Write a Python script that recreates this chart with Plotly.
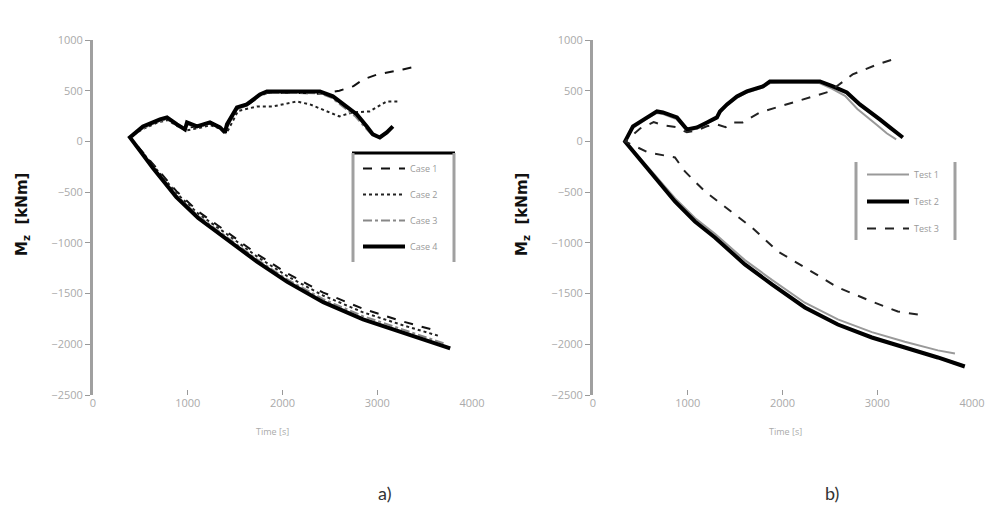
import plotly.graph_objects as go

W, H = 988, 515

# ---------------- data: panel a) ----------------
a_names = ["Case 1", "Case 2", "Case 3", "Case 4"]

a1_low_x = [3560, 3270, 2850, 2430, 2050, 1730, 1410, 1110, 880, 630, 390]
a1_low_y = [-1850, -1775, -1650, -1490, -1300, -1110, -890, -690, -490, -220, 40]
a1_up_x = [530, 700, 780, 880, 980, 1100, 1230, 1340, 1400, 1520, 1630, 1770, 1840, 2080, 2400, 2600, 2750, 2850, 3000, 3270, 3420]
a1_up_y = [140, 210, 230, 170, 130, 150, 180, 140, 120, 320, 360, 450, 480, 480, 470, 500, 545, 610, 660, 710, 740]

a2_low_x = [3640, 3270, 2850, 2430, 2050, 1730, 1410, 1110, 880, 630, 390]
a2_low_y = [-1915, -1812, -1685, -1520, -1328, -1135, -912, -712, -510, -235, 40]
a2_up_x = [520, 690, 790, 890, 990, 1110, 1240, 1350, 1420, 1530, 1730, 1900, 2150, 2290, 2470, 2600, 2740, 2920, 3100, 3240]
a2_up_y = [120, 190, 210, 150, 110, 130, 160, 120, 100, 300, 345, 345, 394, 365, 296, 247, 286, 296, 394, 394]

a3_low_x = [3700, 3270, 2850, 2430, 2050, 1730, 1410, 1110, 880, 630, 390]
a3_low_y = [-1990, -1855, -1722, -1555, -1360, -1162, -938, -735, -530, -248, 40]
a3_up_x = [527, 700, 780, 880, 970, 1000, 1100, 1230, 1340, 1400, 1420, 1520, 1620, 1760, 1840, 2080, 2390, 2520, 2660, 2770, 2870, 2940, 3010, 3090]
a3_up_y = [130, 200, 220, 160, 110, 170, 140, 175, 130, 85, 150, 320, 350, 450, 480, 480, 475, 430, 330, 245, 140, 70, 40, 90]

a4_low_x = [3770, 3270, 2850, 2430, 2050, 1730, 1410, 1110, 880, 630, 390]
a4_low_y = [-2040, -1890, -1755, -1585, -1385, -1185, -960, -755, -550, -260, 40]
a4_up_x = [527, 707, 781, 886, 970, 992, 1097, 1234, 1340, 1392, 1414, 1519, 1624, 1762, 1835, 2078, 2395, 2532, 2679, 2785, 2890, 2954, 3027, 3101, 3165]
a4_up_y = [148, 217, 237, 168, 118, 187, 148, 187, 138, 89, 168, 335, 365, 464, 493, 493, 493, 444, 345, 266, 148, 69, 39, 89, 148]

# ---------------- data: panel b) ----------------
b_names = ["Test 1", "Test 2", "Test 3"]

b1_low_x = [3820, 3640, 3291, 2943, 2584, 2236, 1888, 1603, 1287, 1076, 865, 654, 475, 338]
b1_low_y = [-2090, -2060, -1975, -1880, -1755, -1590, -1365, -1170, -910, -755, -560, -330, -140, 0]
b1_up_x = [420, 560, 670, 740, 880, 990, 1100, 1200, 1300, 1340, 1410, 1520, 1620, 1790, 1870, 2080, 2390, 2520, 2660, 2790, 2900, 3000, 3100, 3200]
b1_up_y = [130, 220, 280, 270, 220, 110, 125, 175, 225, 280, 350, 430, 480, 530, 575, 580, 575, 520, 450, 320, 240, 160, 80, 20]

b2_low_x = [3924, 3639, 3291, 2943, 2584, 2236, 1888, 1603, 1287, 1076, 865, 654, 475, 338]
b2_low_y = [-2219, -2130, -2032, -1933, -1805, -1637, -1410, -1213, -947, -789, -592, -355, -158, 0]
b2_up_x = [422, 570, 675, 738, 886, 992, 1097, 1203, 1308, 1340, 1414, 1519, 1624, 1793, 1867, 2078, 2395, 2532, 2679, 2816, 2922, 3027, 3133, 3270]
b2_up_y = [148, 237, 296, 286, 237, 118, 138, 187, 237, 296, 365, 444, 493, 542, 592, 592, 592, 542, 483, 365, 296, 217, 138, 39]

b3_low_x = [3428, 3217, 2943, 2584, 2236, 1951, 1677, 1392, 1181, 970, 865, 580, 338]
b3_low_y = [-1706, -1677, -1578, -1440, -1243, -1085, -848, -641, -493, -296, -158, -108, 0]
b3_up_x = [500, 640, 740, 880, 990, 1100, 1200, 1300, 1400, 1480, 1580, 1760, 1970, 2150, 2320, 2500, 2740, 3000, 3165]
b3_up_y = [130, 190, 160, 140, 90, 110, 150, 170, 140, 187, 187, 286, 345, 394, 444, 493, 661, 759, 809]

x_ticks = [0, 1000, 2000, 3000, 4000]
y_ticks = [1000, 500, 0, -500, -1000, -1500, -2000, -2500]
x_title = "Time [s]"
y_title = "<b>M<sub>z</sub>  [kNm]</b>"
captions = ["a)", "b)"]

# ---------------- figure ----------------
def px(x):
    return x / W

def py(y):
    return 1 - y / H

fig = go.Figure()

a_series = [
    (a1_low_x + a1_up_x, a1_low_y + a1_up_y, dict(color="#111", width=2, dash="dash")),
    (a2_low_x + a2_up_x, a2_low_y + a2_up_y, dict(color="#222", width=2, dash="dot")),
    (a3_low_x + a3_up_x, a3_low_y + a3_up_y, dict(color="#888", width=2, dash="dashdot")),
    (a4_low_x + a4_up_x, a4_low_y + a4_up_y, dict(color="#000", width=4)),
]
for name, (xs, ys, ln) in zip(a_names, a_series):
    fig.add_trace(go.Scatter(x=xs, y=ys, mode="lines", name=name, line=ln,
                             xaxis="x", yaxis="y", legend="legend", legendgroup=name))

b_series = [
    (b1_low_x + b1_up_x, b1_low_y + b1_up_y, dict(color="#999", width=2)),
    (b2_low_x + b2_up_x, b2_low_y + b2_up_y, dict(color="#000", width=4)),
    (b3_low_x + b3_up_x, b3_low_y + b3_up_y, dict(color="#222", width=2, dash="dash")),
]
for name, (xs, ys, ln) in zip(b_names, b_series):
    fig.add_trace(go.Scatter(x=xs, y=ys, mode="lines", name=name, line=ln,
                             xaxis="x2", yaxis="y2", legend="legend2", legendgroup=name))

tickfont = dict(family="Open Sans, sans-serif", size=11, color="#aaa")
xcommon = dict(range=[0, 4000], tickvals=x_ticks, showgrid=False, zeroline=False,
               showline=False, ticks="inside", ticklen=5, tickcolor="#999",
               tickfont=tickfont, automargin=False)
ycommon = dict(range=[-2500, 1000], tickvals=y_ticks, showgrid=False, zeroline=False,
               showline=True, linecolor="#a0a0a0", linewidth=3, ticks="outside",
               ticklen=5, tickcolor="#999", tickfont=tickfont, automargin=False)

ydom = [py(395), py(40)]
legfont = dict(family="Open Sans, sans-serif", size=9, color="#999")
fig.update_layout(
    width=W, height=H, margin=dict(l=0, r=0, t=0, b=0, autoexpand=False),
    paper_bgcolor="white", plot_bgcolor="white",
    xaxis=dict(domain=[px(93), px(472)], anchor="y", **xcommon),
    yaxis=dict(domain=ydom, anchor="x", **ycommon),
    xaxis2=dict(domain=[px(593), px(972)], anchor="y2", **xcommon),
    yaxis2=dict(domain=ydom, anchor="x2", **ycommon),
    legend=dict(x=px(358), y=py(154), xanchor="left", yanchor="top",
                bgcolor="rgba(0,0,0,0)", borderwidth=0, tracegroupgap=7,
                itemwidth=42, font=legfont),
    legend2=dict(x=px(862), y=py(160), xanchor="left", yanchor="top",
                 bgcolor="rgba(0,0,0,0)", borderwidth=0, tracegroupgap=8,
                 itemwidth=42, font=legfont),
    showlegend=True,
)

shapes = [
    dict(type="line", xref="paper", yref="paper", x0=px(352), x1=px(455), y0=py(153), y1=py(153),
         line=dict(color="#000", width=3)),
    dict(type="line", xref="paper", yref="paper", x0=px(353), x1=px(353), y0=py(153), y1=py(262),
         line=dict(color="#a0a0a0", width=3)),
    dict(type="line", xref="paper", yref="paper", x0=px(454), x1=px(454), y0=py(153), y1=py(262),
         line=dict(color="#a0a0a0", width=3)),
    dict(type="line", xref="paper", yref="paper", x0=px(856), x1=px(856), y0=py(162), y1=py(240),
         line=dict(color="#a0a0a0", width=3)),
    dict(type="line", xref="paper", yref="paper", x0=px(955), x1=px(955), y0=py(162), y1=py(240),
         line=dict(color="#a0a0a0", width=3)),
]
fig.update_layout(shapes=shapes)

annotations = []
for cx in (22, 522):
    annotations.append(dict(text=y_title, xref="paper", yref="paper", x=px(cx), y=py(215),
                            xanchor="center", yanchor="middle",
                            showarrow=False, textangle=-90,
                            font=dict(family="DejaVu Sans, sans-serif", size=15, color="#111")))
for cx in (272, 785):
    annotations.append(dict(text=x_title, xref="paper", yref="paper", x=px(cx), y=py(431),
                            xanchor="center", yanchor="middle", showarrow=False,
                            font=dict(family="Open Sans, sans-serif", size=9, color="#aaa")))
for cap, cx in zip(captions, (384, 832)):
    annotations.append(dict(text=cap, xref="paper", yref="paper", x=px(cx), y=py(493),
                            xanchor="center", yanchor="middle", showarrow=False,
                            font=dict(family="Lato, Open Sans, sans-serif", size=18, color="#333")))
fig.update_layout(annotations=annotations)

fig.write_html("out.html")
